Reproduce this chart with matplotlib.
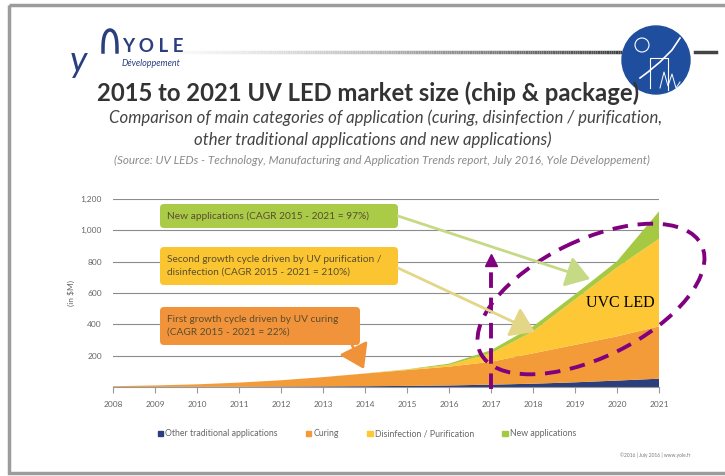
import numpy as np
import matplotlib.pyplot as plt
from matplotlib.patches import FancyBboxPatch, Ellipse, Rectangle, Circle, Patch
from matplotlib.collections import LineCollection

plt.rcParams['font.family'] = ['Lato', 'DejaVu Sans']

# UV LED market size (in $M)
years = list(range(2008, 2022))
other = [1, 1, 2, 2, 3, 4, 5, 7, 10, 15, 21, 30, 41, 53]
curing = [4, 9, 15, 26, 40, 59, 81, 101, 120, 146, 194, 239, 282, 334]
disinfection = [0, 0, 0, 0, 0, 0, 1, 3, 11, 54, 140, 290, 440, 559]
new_apps = [0, 0, 0, 0, 0, 0, 0, 2, 8, 20, 32, 32, 40, 175]

series_labels = ["Other traditional applications", "Curing",
                 "Disinfection / Purification", "New applications"]
colors = ["#2B3F7E", "#F39B38", "#FDC735", "#A6C943"]
yticks = [200, 400, 600, 800, 1000, 1200]
ytick_labels = ["200", "400", "600", "800", "1,000", "1,200"]

W, H = 725, 476
fig = plt.figure(figsize=(W / 100, H / 100), dpi=100)

# background layer in pixel coords (header, frame)
bg = fig.add_axes([0, 0, 1, 1], zorder=0)
bg.set_xlim(0, W)
bg.set_ylim(H, 0)
bg.axis("off")

bg.add_patch(Rectangle((9, 5), 740, 468, fill=False, ec="#9c9c9c", lw=2.5))

# gradient rule under the header
xs = np.linspace(175, 622, 200)
pts = np.array([[x, 52] for x in xs])
segs = np.stack([pts[:-1], pts[1:]], axis=1)
lc = LineCollection(segs, cmap="Greys", lw=2.5)
lc.set_array(np.linspace(0.05, 0.8, len(segs)))
lc.set_clim(0, 1)
bg.add_collection(lc)
bg.plot([695, 716], [52, 52], color="#444", lw=2.5)

# round logo on the right
bg.add_patch(Circle((656, 60), 34, color="#1F4E9E", zorder=3))
bg.plot([640, 648, 660, 672, 680], [78, 72, 62, 50, 38], color="white", lw=1.2, zorder=4)
bg.plot([650, 650, 668, 668], [88, 58, 58, 90], color="white", lw=0.8, zorder=4)
bg.plot([660, 664, 668, 672, 676, 680], [88, 72, 86, 74, 88, 82], color="white", lw=0.7, zorder=4)
bg.add_patch(Circle((642, 45), 7, fill=False, ec="white", lw=0.8, zorder=4))

# Yole logo
bg.text(70, 62, "y", fontsize=26, style="italic", color="#2B3F7E", va="center")
t = np.linspace(0, np.pi, 30)
bg.plot(110 + 7 * np.cos(t[::-1]), 52 - 22 * np.sin(t[::-1]) ** 0.6, color="#2B3F7E", lw=2.5)
bg.text(122, 46, "Y O L E", fontsize=13.5, weight="bold", color="#2B3F7E", va="center")
bg.text(122, 63, "Développement", fontsize=6.5, style="italic", color="#2B3F7E", va="center")

# titles
bg.text(368, 93, "2015 to 2021 UV LED market size (chip & package)",
        fontsize=17.2, weight="bold", color="#333333", ha="center", va="center")
bg.text(386, 118, "Comparison of main categories of application (curing, disinfection / purification,",
        fontsize=12.1, style="italic", color="#444444", ha="center", va="center")
bg.text(373, 140, "other traditional applications and new applications)",
        fontsize=12.1, style="italic", color="#444444", ha="center", va="center")
bg.text(382, 160, "(Source: UV LEDs - Technology, Manufacturing and Application Trends report, July 2016, Yole Développement)",
        fontsize=8.4, style="italic", color="#8a8a8a", ha="center", va="center")
bg.text(655, 455, "©2016 | July 2016 | www.yole.fr", fontsize=3.5, color="#777777",
        ha="center", va="center")

# main chart
ax = fig.add_axes([113 / W, 1 - 387 / H, (659 - 113) / W, (387 - 199) / H], zorder=2)
ax.patch.set_alpha(0)
ax.stackplot(years, other, curing, disinfection, new_apps, colors=colors,
             labels=series_labels, lw=0)
ax.set_xlim(2008, 2021)
ax.set_ylim(0, 1200)
ax.set_xticks(years)
ax.set_yticks(yticks)
ax.set_yticklabels(ytick_labels)
ax.set_axisbelow(True)
ax.yaxis.grid(True, color="#8c8c8c", lw=0.8)
for s in ["top", "right", "left"]:
    ax.spines[s].set_visible(False)
ax.spines["bottom"].set_color("#999999")
ax.tick_params(axis="x", length=4, color="#999999", labelsize=6, labelcolor="#666666", pad=6)
ax.tick_params(axis="y", length=0, labelsize=6, labelcolor="#666666", pad=8)
ax.set_ylabel("(in $M)", fontsize=6, color="#666666", labelpad=4)

# highlight on 2017 and UVC area
purple = "#800080"
ax.plot([2017, 2017], [-10, 790], color=purple, lw=2.8, ls=(0, (4, 2.5)), clip_on=False, zorder=6)
ax.plot([2017], [812], marker="^", ms=8, color=purple, clip_on=False, zorder=6)
ax.text(2020.07, 536, "UVC LED", family="Liberation Serif", fontsize=11.5,
        ha="center", va="center", color="black", zorder=6)

# overlay for callouts
top = fig.add_axes([0, 0, 1, 1], zorder=5)
top.patch.set_alpha(0)
top.set_xlim(0, W)
top.set_ylim(H, 0)
top.axis("off")

boxes = [
    ((160, 204, 238, 24), "#A9CB48", "New applications (CAGR 2015 - 2021 = 97%)"),
    ((160, 247, 238, 38), "#FBC532", "Second growth cycle driven by UV purification /\ndisinfection (CAGR 2015 - 2021 = 210%)"),
    ((160, 307, 200, 38), "#F1933A", "First growth cycle driven by UV curing\n(CAGR 2015 - 2021 = 22%)"),
]
for (x0, y0, w, h), fc, txt in boxes:
    top.add_patch(FancyBboxPatch((x0, y0), w, h, boxstyle="round,pad=0,rounding_size=4",
                                 fc=fc, ec="none"))
    top.text(x0 + 7, y0 + h / 2, txt, fontsize=7.3, color="#5a4d2e", va="center",
             ha="left", linespacing=1.5)

arrows = [((398, 216), (590, 279), "#C6DA85"),
          ((398, 268), (535, 332), "#E3D687"),
          ((352, 345), (364, 369), "#F0923A")]
for start, end, c in arrows:
    top.annotate("", xy=end, xytext=start,
                 arrowprops=dict(arrowstyle="-|>,head_length=0.9,head_width=0.6", color=c,
                                 lw=2, mutation_scale=16, shrinkA=0, shrinkB=0))

top.add_patch(Ellipse((591, 299), 246, 117, angle=-26, fill=False, ec=purple,
                      lw=2.8, ls=(0, (4, 2.5))))

handles = [Patch(color=c, label=l) for c, l in zip(colors, series_labels)]
fig.legend(handles=handles, loc="center", bbox_to_anchor=(367 / W, 1 - 434 / H), ncol=4,
           frameon=False, fontsize=6.3, handlelength=0.6, handleheight=0.6, handletextpad=0.3,
           columnspacing=3.2, labelcolor="#666666")

fig.savefig("out.png", dpi=100)
